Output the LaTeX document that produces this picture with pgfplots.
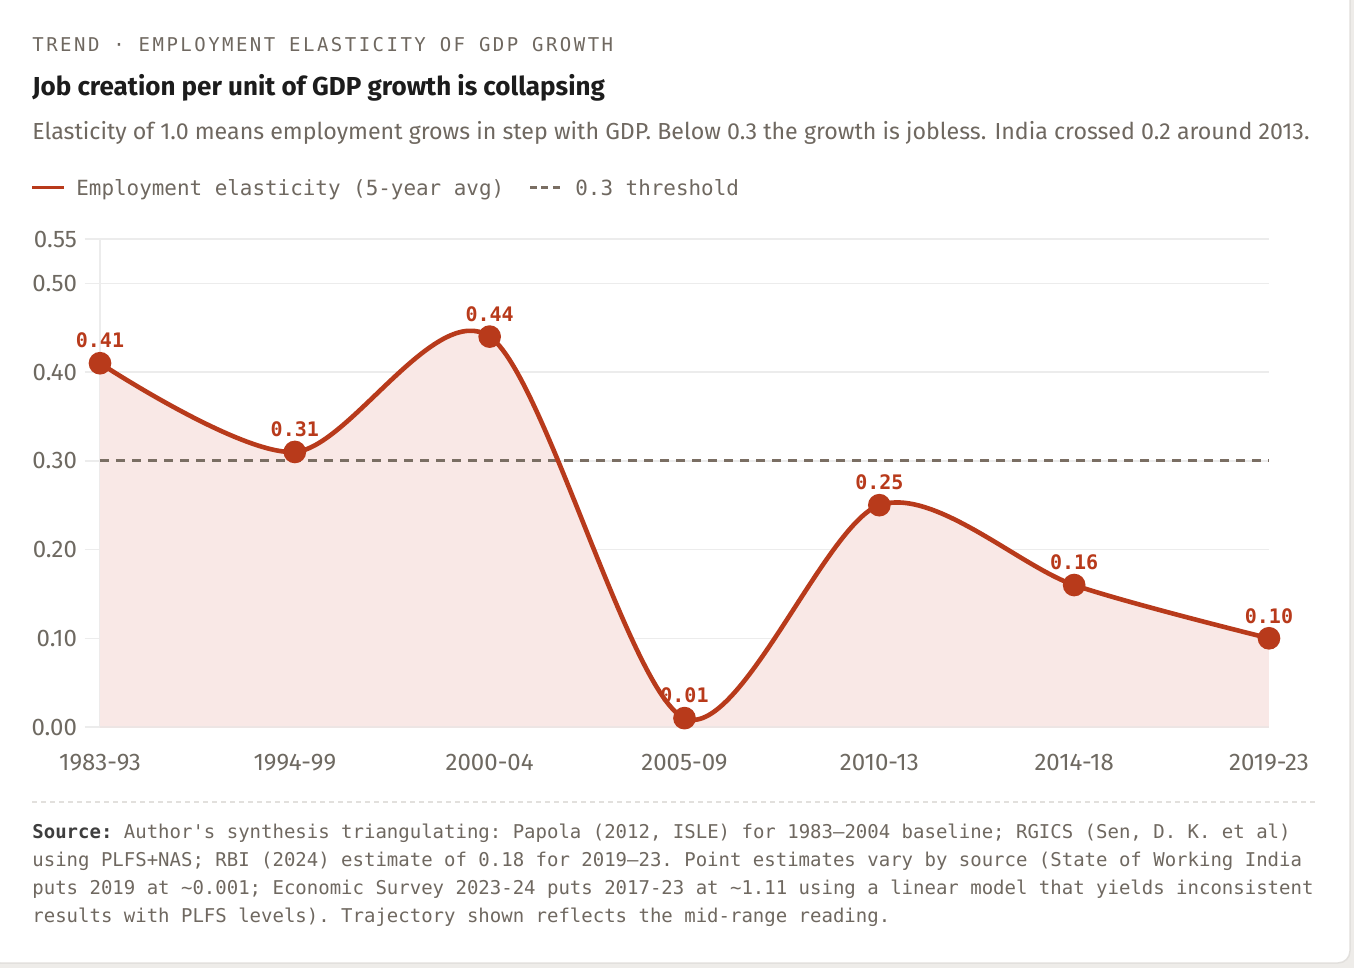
\documentclass[border=0pt]{standalone}
\usepackage{fontspec}
\setmainfont{Fira Sans}
\setmonofont{DejaVu Sans Mono}
\usepackage{pgfplots}
\pgfplotsset{compat=1.18}
\definecolor{redline}{HTML}{B83A1B}
\definecolor{fillpink}{HTML}{F9E8E6}
\definecolor{gridgray}{HTML}{ECECEC}
\definecolor{tickgray}{HTML}{6E6961}
\definecolor{headgray}{HTML}{6F6860}
\definecolor{threshcol}{HTML}{7A6E63}
\definecolor{titlecol}{HTML}{1C1C1C}
\definecolor{outerbg}{HTML}{EEECE9}
\definecolor{cardborder}{HTML}{E2E0DD}
\begin{document}
\begin{tikzpicture}
\useasboundingbox (0,0) rectangle (677pt,-484pt);
\fill[outerbg] (0,0) rectangle (677pt,-484pt);
\draw[cardborder, fill=white, rounded corners=6pt, line width=0.75pt] (-6pt,6pt) rectangle (675pt,-481.5pt);
% header
\node[anchor=base west, inner sep=0pt, text=headgray] at (16pt,-26pt)
  {\fontsize{9.5pt}{11pt}\ttfamily\addfontfeature{LetterSpace=13}TREND · EMPLOYMENT ELASTICITY OF GDP GROWTH};
\node[anchor=base west, inner sep=0pt, text=titlecol] at (16pt,-48pt)
  {\fontsize{13pt}{15pt}\selectfont\bfseries Job creation per unit of GDP growth is collapsing};
\node[anchor=base west, inner sep=0pt, text=headgray] at (16pt,-70pt)
  {\fontsize{11.6pt}{13pt}\selectfont Elasticity of 1.0 means employment grows in step with GDP. Below 0.3 the growth is jobless. India crossed 0.2 around 2013.};
% legend
\draw[redline, line width=1.5pt] (16pt,-94pt) -- (32pt,-94pt);
\node[anchor=base west, inner sep=0pt, text=headgray] at (38pt,-98pt)
  {\fontsize{10.45pt}{12pt}\ttfamily Employment elasticity (5-year avg)};
\draw[threshcol, line width=1.5pt, dash pattern=on 3.5pt off 2.2pt] (265pt,-94pt) -- (282pt,-94pt);
\node[anchor=base west, inner sep=0pt, text=headgray] at (287.5pt,-98pt)
  {\fontsize{10.45pt}{12pt}\ttfamily 0.3 threshold};
\begin{axis}[
  at={(50pt,-363.5pt)}, anchor=south west,
  scale only axis, width=584.5pt, height=244pt,
  xmin=0, xmax=6, ymin=0, ymax=0.55,
  clip=false,
  axis line style={draw=none},
  ymajorgrids, grid style={gridgray, line width=0.75pt},
  ytick={0,0.1,0.2,0.3,0.4,0.5,0.55},
  yticklabel style={/pgf/number format/fixed, /pgf/number format/fixed zerofill, /pgf/number format/precision=2, /pgf/number format/assume math mode=true},
  yticklabel style={text=tickgray, font=\fontsize{12pt}{14pt}\selectfont, xshift=-0.5pt},
  xtick={0,1,2,3,4,5,6},
  xticklabels={1983-93,1994-99,2000-04,2005-09,2010-13,2014-18,2019-23},
  xticklabel style={text=tickgray, font=\fontsize{12pt}{14pt}\selectfont, yshift=-2.5pt},
  tick pos=left, tick align=outside,
  major tick length=7.5pt,
  ytick style={draw=gridgray, line width=0.75pt},
  xtick style={draw=none},
]
\draw[gridgray, line width=0.75pt] (axis cs:0,0) -- (axis cs:0,0.55);
\addplot[draw=none, fill=fillpink, smooth] coordinates {
  (0,0.41) (1,0.31) (2,0.44) (3,0.01) (4,0.25) (5,0.16) (6,0.10)} \closedcycle;
\draw[color=fillpink!80!gray!60, line width=0.6pt] (axis cs:0,0) -- (axis cs:6,0);
\addplot[threshcol, line width=1.5pt, dash pattern=on 4.5pt off 3.5pt] coordinates {(0,0.3) (6,0.3)};
\addplot[redline, line width=2.3pt, smooth, mark=*, mark size=4.5pt,
  mark options={fill=redline, draw=redline, solid},
  nodes near coords,
  every node near coord/.append style={text=redline, font=\fontsize{10pt}{12pt}\ttfamily\bfseries, yshift=3pt,
     /pgf/number format/fixed, /pgf/number format/fixed zerofill, /pgf/number format/precision=2, /pgf/number format/assume math mode=true}]
  coordinates {(0,0.41) (1,0.31) (2,0.44) (3,0.01) (4,0.25) (5,0.16) (6,0.10)};
\end{axis}
% separator
\draw[cardborder, line width=0.6pt, dash pattern=on 2.5pt off 2pt] (16pt,-401pt) -- (658.5pt,-401pt);
\node[anchor=base west, inner sep=0pt, text=headgray, align=left,
      font=\fontsize{9.5pt}{14pt}\ttfamily] at (16pt,-461pt)
  {{\bfseries\color{titlecol!85}Source:} Author's synthesis triangulating: Papola (2012, ISLE) for 1983–2004 baseline; RGICS (Sen, D. K. et al)\\
   using PLFS+NAS; RBI (2024) estimate of 0.18 for 2019–23. Point estimates vary by source (State of Working India\\
   puts 2019 at \textasciitilde0.001; Economic Survey 2023-24 puts 2017-23 at \textasciitilde1.11 using a linear model that yields inconsistent\\
   results with PLFS levels). Trajectory shown reflects the mid-range reading.};
\end{tikzpicture}
\end{document}
